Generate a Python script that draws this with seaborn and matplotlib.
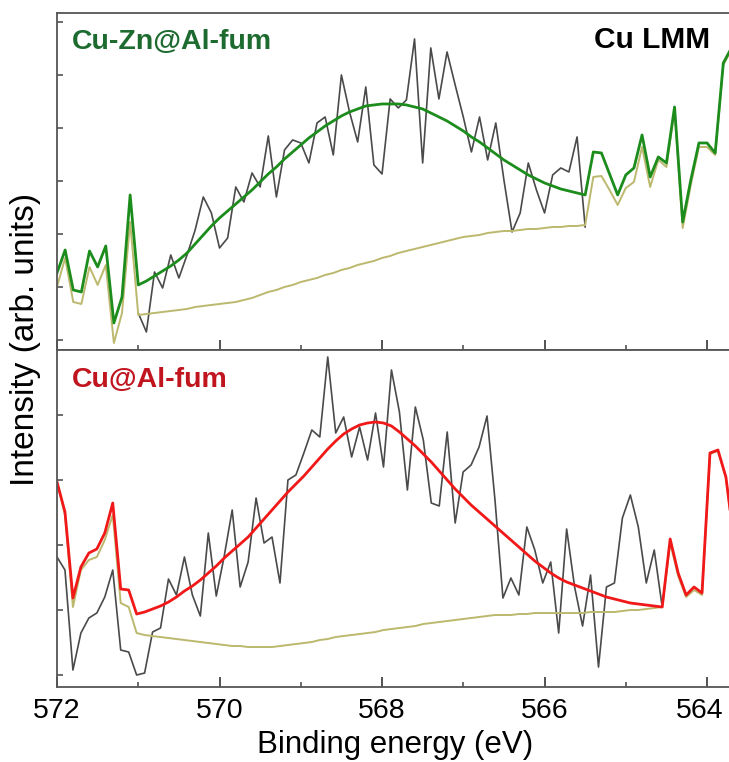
import numpy as np
import pandas as pd
import seaborn as sns
import matplotlib.pyplot as plt
from matplotlib.transforms import ScaledTranslation

# binding energy axis and intensities (arb. units)
ticks_x = [572, 570, 568, 566, 564]

# Cu-Zn@Al-fum
top_env = [77, 100, 60, 58, 99, 83, 104, 27, 53, 155,
           65, 69, 74, 79, 84, 90, 97, 106, 115, 124, 132, 139, 146, 153, 160, 168,
           176, 183, 191, 198, 205, 212, 218, 224, 229, 234, 238, 241, 244, 245, 246,
           246, 246, 245, 243, 241, 237, 233, 229, 224, 219, 213, 208, 202, 196, 190,
           185, 180, 175, 171, 167, 164, 161, 159, 157, 155,
           198, 197, 176, 155, 175, 182, 215, 173, 193, 187, 243, 128, 170, 207, 207,
           197, 287, 302]
top_bg = [63, 92, 48, 46, 83, 65, 85, 7, 37, 128,
          35, 36, 37, 38, 39, 40, 41, 43, 44, 45, 46, 47, 48, 50, 52, 55, 58, 60, 63,
          65, 68, 70, 72, 75, 77, 80, 82, 85, 87, 89, 92, 94, 97, 99, 101, 103, 105,
          107, 109, 111, 113, 114, 115, 117, 118, 119, 119, 120, 121, 121, 122, 123,
          123, 124, 124, 125,
          173, 174, 160, 145, 162, 168, 203, 163, 190, 183, 240, 122, 165, 203, 203,
          195, 285, 300]
top_raw = [37, 18, 78, 62, 95, 72, 95, 120, 153, 137, 102, 112, 163, 148, 177, 163,
           214, 153, 200, 210, 207, 187, 227, 233, 195, 275, 238, 208, 263, 185, 176,
           251, 242, 250, 311, 187, 302, 251, 298, 265, 233, 198, 233, 190, 227, 170,
           118, 137, 187, 160, 137, 175, 182, 178, 213, 123]
top_raw_start = 10

# Cu@Al-fum
bot_env = [205, 175, 89, 120, 134, 138, 154, 184, 98, 97, 73,
           75, 78, 81, 85, 90, 96, 101, 107, 114, 121, 129, 136, 143, 150, 159, 168,
           177, 186, 195, 203, 211, 220, 229, 238, 246, 253, 258, 262, 264, 265, 264,
           261, 255, 248, 241, 233, 225, 216, 207, 198, 190, 182, 175, 168, 161, 154,
           147, 140, 133, 126, 120, 114, 109, 105, 102, 99, 96, 93, 90, 88, 86, 84, 83,
           82, 81, 80,
           148, 114, 92, 100, 94, 234, 237, 210, 147]
bot_bg = [205, 172, 80, 117, 127, 130, 147, 172, 84, 80, 54,
          52, 51, 50, 49, 48, 47, 46, 45, 44, 43, 42, 41, 41, 40, 40, 40, 40, 41, 42,
          43, 44, 45, 47, 48, 50, 51, 52, 53, 54, 55, 57, 58, 59, 60, 61, 63, 64, 65,
          66, 67, 68, 69, 70, 71, 72, 72, 72, 73, 73, 74, 74, 74, 74, 74, 74, 74, 75,
          75, 75, 75, 76, 77, 77, 78, 79, 80,
          144, 111, 90, 97, 92, 233, 236, 209, 146]
bot_raw = [130, 117, 17, 54, 69, 74, 90, 117, 37, 35, 12, 14, 55, 59, 108, 92, 130,
           92, 71, 154, 91, 131, 177, 100, 125, 189, 144, 150, 104, 207, 212, 234, 257,
           250, 330, 254, 270, 230, 260, 227, 274, 220, 317, 275, 197, 280, 247, 184,
           181, 255, 164, 215, 222, 240, 271, 187, 89, 109, 92, 160, 137, 104, 125, 54,
           158, 100, 61, 112, 20, 100, 104, 169, 192, 160, 104, 137, 80]

e_top = 572.0 - 0.1 * np.arange(len(top_env))
e_bot = 572.0 - 0.098 * np.arange(len(bot_env))

plt.rcParams['font.family'] = ['Liberation Sans', 'DejaVu Sans']
fig = plt.figure(figsize=(7.29, 7.62), dpi=100)
ax1 = fig.add_axes([0.0782, 0.5407, 0.9218, 0.4423])
ax2 = fig.add_axes([0.0782, 0.0984, 0.9218, 0.4423])

olive = '#bcb86e'
grey = '#4a4a4a'


def draw(ax, e, raw, raw_start, bg, env, col):
    df_raw = pd.DataFrame({'E': e[raw_start:raw_start + len(raw)], 'I': raw})
    sns.lineplot(data=df_raw, x='E', y='I', ax=ax, color=grey, lw=1.2,
                 estimator=None, sort=False)
    sns.lineplot(x=e, y=bg, ax=ax, color=olive, lw=1.4, estimator=None, sort=False)
    sns.lineplot(x=e, y=env, ax=ax, color=col, lw=2.0, estimator=None, sort=False)


draw(ax1, e_top, top_raw, top_raw_start, top_bg, top_env, '#1c8c1c')
draw(ax2, e_bot, bot_raw, 0, bot_bg, bot_env, '#f01818')

ax1.set_yticks([10, 63, 116, 169, 222, 275, 328])
ax2.set_yticks([12, 77, 142, 207, 272])
for ax in (ax1, ax2):
    ax.set_xlim(572, 563.73)
    ax.set_ylim(0, 337)
    ax.set_xticks(ticks_x)
    ax.set_xticks([571, 569, 567, 565], minor=True)
    ax.set_yticklabels([])
    ax.set_xlabel('')
    ax.set_ylabel('')
    ax.spines['right'].set_visible(False)
    for s in ('left', 'top', 'bottom'):
        ax.spines[s].set_color('#555555')
        ax.spines[s].set_linewidth(1.3)
    ax.tick_params(axis='x', which='major', direction='in', length=7, width=1.3,
                   color='#444444', labelsize=20.5, pad=8)
    ax.tick_params(axis='x', which='minor', direction='in', length=3.5, width=1.1,
                   color='#444444')
    ax.tick_params(axis='y', direction='in', length=4, width=1.1, color='#444444')
ax1.set_xticklabels([])

# last label sits at the right edge, nudge it in a little
last = ax2.get_xticklabels()[-1]
last.set_transform(last.get_transform() + ScaledTranslation(-5 / 72, 0, fig.dpi_scale_trans))

ax1.text(0.022, 0.914, 'Cu-Zn@Al-fum', transform=ax1.transAxes, fontsize=20.5,
         fontweight='bold', color='#1e6b30', va='center', ha='left')
ax1.text(0.972, 0.92, 'Cu LMM', transform=ax1.transAxes, fontsize=21.5,
         fontweight='bold', color='black', va='center', ha='right')
ax2.text(0.022, 0.911, 'Cu@Al-fum', transform=ax2.transAxes, fontsize=20.5,
         fontweight='bold', color='#c0141e', va='center', ha='left')

fig.text(0.035, 0.555, 'Intensity (arb. units)', rotation=90, fontsize=24,
         va='center', ha='center')
fig.text(0.542, 0.022, 'Binding energy (eV)', fontsize=22.5, va='center', ha='center')

fig.savefig('out.png', dpi=100)
